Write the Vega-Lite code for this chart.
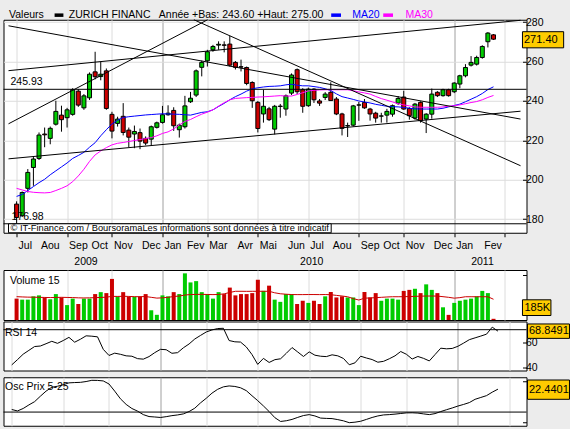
{
 "$schema": "https://vega.github.io/schema/vega-lite/v6.json",
 "background": "#ECECEC",
 "padding": {"left": 2.5, "top": 8.75, "right": 0, "bottom": 0},
 "bounds": "full",
 "spacing": 0.25,
 "config": {
  "view": {"fill": "white", "stroke": "black", "strokeWidth": 1},
  "axis": {"labelFont": "Liberation Sans", "labelFontSize": 10.5, "labelColor": "black", "tickColor": "black", "domain": false, "gridColor": "#DCDCDC", "labelFlush": false, "labelOverlap": false, "labelBound": false},
  "text": {"font": "Liberation Sans", "fontSize": 10.5, "color": "black"}
 },
 "datasets": {
  "weeks": [
   {"d":"2009-07-06","o":187.6,"h":189.0,"l":176.98,"c":180.8,"v":3300,"vma":3600,"ma20":191.5,"ma30":195.6,"rsi":42.4,"osc":2.5},
   {"d":"2009-07-13","o":181.7,"h":194.0,"l":181.0,"c":193.5,"v":3140,"vma":3560,"ma20":192.5,"ma30":194.8,"rsi":46.5,"osc":1.1},
   {"d":"2009-07-20","o":195.6,"h":205.4,"l":193.5,"c":203.7,"v":3140,"vma":3530,"ma20":194.5,"ma30":194.0,"rsi":50.8,"osc":3.5},
   {"d":"2009-07-27","o":206.2,"h":211.5,"l":196.9,"c":210.5,"v":3650,"vma":3520,"ma20":196.5,"ma30":193.6,"rsi":53.8,"osc":7.0},
   {"d":"2009-08-03","o":210.8,"h":224.0,"l":210.0,"c":222.7,"v":3800,"vma":3500,"ma20":198.5,"ma30":193.4,"rsi":56.8,"osc":10.2},
   {"d":"2009-08-10","o":223.2,"h":226.5,"l":216.5,"c":222.8,"v":3480,"vma":3480,"ma20":200.2,"ma30":193.3,"rsi":57.2,"osc":15.5},
   {"d":"2009-08-17","o":221.0,"h":227.0,"l":218.0,"c":226.1,"v":3200,"vma":3460,"ma20":202.5,"ma30":193.5,"rsi":59.0,"osc":20.5},
   {"d":"2009-08-24","o":228.2,"h":240.1,"l":227.5,"c":234.7,"v":4000,"vma":3480,"ma20":204.5,"ma30":194.5,"rsi":60.9,"osc":24.3},
   {"d":"2009-08-31","o":232.8,"h":237.6,"l":224.4,"c":230.5,"v":3480,"vma":3500,"ma20":206.5,"ma30":195.6,"rsi":59.3,"osc":25.3},
   {"d":"2009-09-07","o":231.5,"h":236.5,"l":226.5,"c":235.5,"v":2300,"vma":3480,"ma20":208.5,"ma30":196.9,"rsi":61.5,"osc":26.8},
   {"d":"2009-09-14","o":233.2,"h":246.5,"l":232.5,"c":245.7,"v":3300,"vma":3460,"ma20":210.8,"ma30":199.0,"rsi":64.0,"osc":28.6},
   {"d":"2009-09-21","o":245.0,"h":246.0,"l":237.0,"c":237.9,"v":2470,"vma":3420,"ma20":212.3,"ma30":201.9,"rsi":60.2,"osc":28.9},
   {"d":"2009-09-28","o":236.5,"h":243.5,"l":235.5,"c":242.6,"v":3300,"vma":3400,"ma20":213.9,"ma30":205.3,"rsi":62.5,"osc":29.1},
   {"d":"2009-10-05","o":241.6,"h":254.5,"l":240.5,"c":253.6,"v":3300,"vma":3420,"ma20":216.5,"ma30":209.3,"rsi":65.2,"osc":29.9},
   {"d":"2009-10-12","o":254.8,"h":265.0,"l":251.0,"c":252.3,"v":4000,"vma":3450,"ma20":218.8,"ma30":212.6,"rsi":64.9,"osc":31.1},
   {"d":"2009-10-19","o":252.4,"h":260.0,"l":250.5,"c":253.6,"v":4300,"vma":3480,"ma20":222.3,"ma30":214.6,"rsi":64.4,"osc":31.0},
   {"d":"2009-10-26","o":255.3,"h":256.5,"l":235.5,"c":236.2,"v":4150,"vma":3520,"ma20":225.4,"ma30":216.3,"rsi":54.6,"osc":30.5},
   {"d":"2009-11-02","o":233.2,"h":234.5,"l":221.0,"c":224.7,"v":6340,"vma":3650,"ma20":228.3,"ma30":217.7,"rsi":49.8,"osc":27.5},
   {"d":"2009-11-09","o":228.6,"h":232.0,"l":227.0,"c":230.8,"v":3650,"vma":3640,"ma20":230.2,"ma30":218.5,"rsi":51.6,"osc":20.5},
   {"d":"2009-11-16","o":232.2,"h":238.9,"l":222.5,"c":224.0,"v":4300,"vma":3660,"ma20":231.6,"ma30":218.9,"rsi":50.7,"osc":13.0},
   {"d":"2009-11-23","o":225.2,"h":226.5,"l":216.5,"c":221.6,"v":3600,"vma":3640,"ma20":232.0,"ma30":219.4,"rsi":49.5,"osc":7.5},
   {"d":"2009-11-30","o":223.2,"h":227.5,"l":216.0,"c":224.5,"v":3600,"vma":3600,"ma20":232.3,"ma30":219.9,"rsi":49.2,"osc":3.5},
   {"d":"2009-12-07","o":223.9,"h":226.0,"l":215.5,"c":219.6,"v":3600,"vma":3600,"ma20":232.6,"ma30":220.4,"rsi":47.3,"osc":0.9},
   {"d":"2009-12-14","o":221.0,"h":222.0,"l":217.5,"c":218.6,"v":4000,"vma":3620,"ma20":232.9,"ma30":220.9,"rsi":46.9,"osc":-2.5},
   {"d":"2009-12-21","o":220.6,"h":227.5,"l":217.5,"c":226.9,"v":1500,"vma":3500,"ma20":233.1,"ma30":221.4,"rsi":48.9,"osc":-4.4},
   {"d":"2009-12-28","o":226.6,"h":229.5,"l":226.0,"c":228.9,"v":800,"vma":3380,"ma20":233.3,"ma30":222.3,"rsi":52.0,"osc":-4.8},
   {"d":"2010-01-04","o":229.1,"h":237.5,"l":228.5,"c":233.0,"v":3800,"vma":3420,"ma20":233.5,"ma30":223.5,"rsi":54.6,"osc":-5.3},
   {"d":"2010-01-11","o":233.0,"h":237.8,"l":232.5,"c":233.8,"v":3650,"vma":3500,"ma20":233.4,"ma30":224.3,"rsi":54.3,"osc":-4.5},
   {"d":"2010-01-18","o":235.2,"h":236.8,"l":224.8,"c":227.4,"v":4300,"vma":3620,"ma20":233.3,"ma30":225.8,"rsi":51.5,"osc":-3.5},
   {"d":"2010-01-25","o":225.4,"h":228.5,"l":221.4,"c":227.7,"v":4000,"vma":3700,"ma20":233.2,"ma30":227.8,"rsi":52.0,"osc":-2.8},
   {"d":"2010-02-01","o":226.9,"h":242.6,"l":226.0,"c":237.5,"v":7200,"vma":3850,"ma20":233.0,"ma30":229.6,"rsi":55.8,"osc":-1.8},
   {"d":"2010-02-08","o":239.6,"h":244.6,"l":239.0,"c":241.4,"v":5800,"vma":3930,"ma20":232.8,"ma30":230.6,"rsi":58.8,"osc":0.5},
   {"d":"2010-02-15","o":243.0,"h":256.0,"l":242.0,"c":255.3,"v":6000,"vma":3950,"ma20":233.5,"ma30":232.0,"rsi":62.7,"osc":3.8},
   {"d":"2010-02-22","o":257.1,"h":260.5,"l":252.5,"c":259.6,"v":4300,"vma":3960,"ma20":234.2,"ma30":233.3,"rsi":65.5,"osc":9.0},
   {"d":"2010-03-01","o":260.4,"h":266.0,"l":257.5,"c":265.0,"v":4000,"vma":3940,"ma20":234.5,"ma30":234.3,"rsi":68.2,"osc":13.5},
   {"d":"2010-03-08","o":266.0,"h":268.5,"l":265.0,"c":267.7,"v":3300,"vma":3920,"ma20":235.5,"ma30":235.5,"rsi":69.8,"osc":18.5},
   {"d":"2010-03-15","o":268.4,"h":270.3,"l":266.0,"c":268.8,"v":4300,"vma":3940,"ma20":237.2,"ma30":237.4,"rsi":70.9,"osc":22.3},
   {"d":"2010-03-22","o":268.5,"h":270.3,"l":264.7,"c":268.3,"v":4000,"vma":4040,"ma20":238.8,"ma30":239.1,"rsi":71.1,"osc":24.7},
   {"d":"2010-03-29","o":268.9,"h":273.1,"l":257.5,"c":258.2,"v":5000,"vma":4250,"ma20":240.6,"ma30":240.6,"rsi":61.5,"osc":25.6},
   {"d":"2010-04-05","o":259.6,"h":260.3,"l":256.0,"c":257.1,"v":3800,"vma":4430,"ma20":242.2,"ma30":241.3,"rsi":60.5,"osc":25.1},
   {"d":"2010-04-12","o":257.4,"h":261.0,"l":255.0,"c":257.2,"v":4000,"vma":4430,"ma20":243.5,"ma30":241.5,"rsi":60.3,"osc":23.8},
   {"d":"2010-04-19","o":257.0,"h":257.5,"l":248.0,"c":248.9,"v":4000,"vma":4420,"ma20":245.0,"ma30":241.7,"rsi":56.5,"osc":21.0},
   {"d":"2010-04-26","o":249.4,"h":250.0,"l":236.5,"c":240.1,"v":4150,"vma":4430,"ma20":246.2,"ma30":241.8,"rsi":50.5,"osc":16.0},
   {"d":"2010-05-03","o":239.3,"h":240.0,"l":224.0,"c":226.0,"v":6200,"vma":4430,"ma20":246.7,"ma30":242.0,"rsi":42.8,"osc":11.2},
   {"d":"2010-05-10","o":233.4,"h":245.7,"l":229.0,"c":237.3,"v":4500,"vma":4430,"ma20":247.1,"ma30":242.1,"rsi":47.5,"osc":6.0},
   {"d":"2010-05-17","o":236.0,"h":237.0,"l":229.8,"c":230.5,"v":5300,"vma":4430,"ma20":247.4,"ma30":242.3,"rsi":44.3,"osc":0.5},
   {"d":"2010-05-24","o":225.7,"h":238.0,"l":223.0,"c":237.3,"v":3140,"vma":4200,"ma20":247.5,"ma30":242.5,"rsi":46.5,"osc":-5.5},
   {"d":"2010-05-31","o":237.2,"h":238.5,"l":231.5,"c":237.4,"v":2800,"vma":4050,"ma20":247.7,"ma30":242.7,"rsi":47.2,"osc":-9.2},
   {"d":"2010-06-07","o":235.9,"h":243.3,"l":232.5,"c":242.6,"v":4000,"vma":3980,"ma20":248.2,"ma30":242.5,"rsi":51.5,"osc":-8.5},
   {"d":"2010-06-14","o":244.0,"h":254.0,"l":243.0,"c":253.2,"v":4000,"vma":3930,"ma20":248.5,"ma30":242.5,"rsi":56.0,"osc":-7.2},
   {"d":"2010-06-21","o":255.9,"h":256.5,"l":243.5,"c":244.7,"v":2470,"vma":3920,"ma20":248.0,"ma30":243.3,"rsi":52.5,"osc":-5.2},
   {"d":"2010-06-28","o":245.7,"h":246.5,"l":234.0,"c":237.3,"v":2970,"vma":3920,"ma20":247.7,"ma30":244.2,"rsi":49.0,"osc":-3.4},
   {"d":"2010-07-05","o":237.6,"h":246.8,"l":237.0,"c":246.0,"v":2640,"vma":3930,"ma20":247.7,"ma30":245.1,"rsi":52.6,"osc":-2.5},
   {"d":"2010-07-12","o":246.0,"h":246.5,"l":239.0,"c":240.6,"v":2970,"vma":3930,"ma20":247.3,"ma30":245.4,"rsi":50.0,"osc":-3.8},
   {"d":"2010-07-19","o":240.0,"h":241.0,"l":237.5,"c":238.9,"v":2470,"vma":3920,"ma20":246.9,"ma30":245.6,"rsi":49.2,"osc":-5.9},
   {"d":"2010-07-26","o":241.8,"h":244.5,"l":240.5,"c":243.5,"v":3650,"vma":3930,"ma20":246.2,"ma30":245.7,"rsi":48.9,"osc":-6.2},
   {"d":"2010-08-02","o":244.4,"h":249.5,"l":240.0,"c":240.2,"v":4320,"vma":3900,"ma20":245.3,"ma30":245.7,"rsi":50.3,"osc":-6.4},
   {"d":"2010-08-09","o":241.0,"h":242.0,"l":232.8,"c":233.4,"v":3480,"vma":3800,"ma20":243.6,"ma30":245.7,"rsi":49.5,"osc":-7.4},
   {"d":"2010-08-16","o":233.4,"h":234.0,"l":222.5,"c":226.1,"v":3650,"vma":3700,"ma20":242.2,"ma30":245.7,"rsi":47.4,"osc":-8.6},
   {"d":"2010-08-23","o":227.3,"h":229.0,"l":221.7,"c":227.5,"v":3480,"vma":3590,"ma20":241.5,"ma30":245.7,"rsi":42.5,"osc":-10.4},
   {"d":"2010-08-30","o":227.7,"h":238.0,"l":227.0,"c":237.5,"v":3480,"vma":3300,"ma20":240.8,"ma30":245.2,"rsi":44.0,"osc":-9.9},
   {"d":"2010-09-06","o":237.9,"h":239.5,"l":229.9,"c":238.0,"v":2300,"vma":3080,"ma20":240.0,"ma30":244.6,"rsi":49.2,"osc":-9.0},
   {"d":"2010-09-13","o":239.2,"h":241.0,"l":236.0,"c":236.5,"v":4320,"vma":3370,"ma20":239.5,"ma30":244.1,"rsi":47.8,"osc":-7.2},
   {"d":"2010-09-20","o":235.9,"h":236.5,"l":230.0,"c":233.4,"v":3480,"vma":3400,"ma20":239.0,"ma30":243.5,"rsi":46.6,"osc":-5.3},
   {"d":"2010-09-27","o":233.8,"h":234.5,"l":229.0,"c":231.3,"v":4150,"vma":3450,"ma20":238.3,"ma30":242.3,"rsi":44.5,"osc":-3.8},
   {"d":"2010-10-04","o":232.3,"h":234.0,"l":229.0,"c":232.4,"v":2970,"vma":3500,"ma20":237.8,"ma30":241.2,"rsi":45.2,"osc":-2.8},
   {"d":"2010-10-11","o":232.8,"h":236.0,"l":229.0,"c":234.7,"v":3300,"vma":3550,"ma20":237.3,"ma30":240.4,"rsi":47.2,"osc":-2.5},
   {"d":"2010-10-18","o":233.3,"h":238.2,"l":232.0,"c":237.6,"v":3300,"vma":3590,"ma20":237.1,"ma30":239.5,"rsi":49.5,"osc":-2.0},
   {"d":"2010-10-25","o":238.9,"h":242.5,"l":238.0,"c":241.3,"v":3140,"vma":3590,"ma20":237.0,"ma30":238.6,"rsi":52.9,"osc":-1.4},
   {"d":"2010-11-01","o":242.0,"h":245.2,"l":235.5,"c":235.9,"v":4490,"vma":3600,"ma20":236.7,"ma30":238.0,"rsi":50.7,"osc":-0.8},
   {"d":"2010-11-08","o":236.2,"h":236.8,"l":230.5,"c":232.5,"v":4650,"vma":3620,"ma20":236.3,"ma30":237.5,"rsi":47.0,"osc":-0.7},
   {"d":"2010-11-15","o":231.3,"h":239.0,"l":230.5,"c":238.4,"v":4820,"vma":3650,"ma20":236.0,"ma30":237.0,"rsi":49.0,"osc":-1.0},
   {"d":"2010-11-22","o":239.3,"h":239.8,"l":229.0,"c":230.0,"v":4150,"vma":3680,"ma20":235.9,"ma30":236.8,"rsi":47.5,"osc":-1.8},
   {"d":"2010-11-29","o":230.8,"h":233.8,"l":223.7,"c":233.3,"v":5500,"vma":3700,"ma20":235.9,"ma30":236.8,"rsi":45.5,"osc":-2.5},
   {"d":"2010-12-06","o":233.3,"h":246.3,"l":231.0,"c":243.5,"v":4650,"vma":3700,"ma20":235.9,"ma30":236.8,"rsi":50.5,"osc":-1.5},
   {"d":"2010-12-13","o":244.4,"h":245.0,"l":242.0,"c":242.7,"v":4150,"vma":3690,"ma20":235.9,"ma30":236.8,"rsi":55.5,"osc":0.5},
   {"d":"2010-12-20","o":242.7,"h":246.2,"l":242.2,"c":245.7,"v":1960,"vma":3600,"ma20":236.3,"ma30":237.0,"rsi":55.0,"osc":2.3},
   {"d":"2010-12-27","o":245.7,"h":246.2,"l":242.2,"c":242.7,"v":790,"vma":3500,"ma20":237.0,"ma30":237.3,"rsi":55.3,"osc":4.0},
   {"d":"2011-01-03","o":244.7,"h":249.5,"l":244.0,"c":249.1,"v":2640,"vma":3370,"ma20":237.7,"ma30":237.6,"rsi":57.0,"osc":5.9},
   {"d":"2011-01-10","o":248.6,"h":253.3,"l":246.5,"c":252.8,"v":2970,"vma":3450,"ma20":238.4,"ma30":238.0,"rsi":59.5,"osc":7.5},
   {"d":"2011-01-17","o":252.8,"h":258.7,"l":252.0,"c":257.0,"v":3140,"vma":3590,"ma20":239.6,"ma30":238.6,"rsi":62.2,"osc":9.3},
   {"d":"2011-01-24","o":258.2,"h":262.8,"l":257.5,"c":259.6,"v":3300,"vma":3590,"ma20":240.9,"ma30":239.2,"rsi":63.6,"osc":12.5},
   {"d":"2011-01-31","o":258.7,"h":263.0,"l":258.0,"c":262.1,"v":3650,"vma":3590,"ma20":242.2,"ma30":239.7,"rsi":65.0,"osc":14.3},
   {"d":"2011-02-07","o":262.1,"h":268.3,"l":261.5,"c":267.7,"v":4490,"vma":3590,"ma20":243.8,"ma30":240.6,"rsi":66.5,"osc":16.1},
   {"d":"2011-02-14","o":270.1,"h":275.0,"l":267.2,"c":274.5,"v":4150,"vma":3590,"ma20":245.8,"ma30":241.8,"rsi":72.0,"osc":19.5},
   {"d":"2011-02-21","o":273.6,"h":274.0,"l":271.0,"c":271.4,"v":185,"vma":3200,"ma20":247.2,"ma30":242.8,"rsi":68.85,"osc":22.44}
  ],
  "trend": [
   {"x1":"2009-06-25T22:00:00Z","y1":278.2,"x2":"2011-03-26T17:00:00Z","y2":230.8},
   {"x1":"2009-06-25T22:00:00Z","y1":228.4,"x2":"2010-03-01T07:00:00Z","y2":281.27},
   {"x1":"2010-02-12T05:00:00Z","y1":281.27,"x2":"2011-03-26T17:00:00Z","y2":207.1},
   {"x1":"2009-06-25T22:00:00Z","y1":255.4,"x2":"2011-03-26T17:00:00Z","y2":281.0},
   {"x1":"2009-06-25T22:00:00Z","y1":210.6,"x2":"2011-03-26T17:00:00Z","y2":234.8}
  ],
  "months": [
   {"m":"Jul","d":"2009-07-06"},{"m":"Aou","d":"2009-08-03"},{"m":"Sep","d":"2009-09-07"},{"m":"Oct","d":"2009-10-05"},{"m":"Nov","d":"2009-11-02"},{"m":"Dec","d":"2009-12-07"},
   {"m":"Jan","d":"2010-01-04"},{"m":"Fev","d":"2010-02-01"},{"m":"Mar","d":"2010-03-01"},{"m":"Avr","d":"2010-04-05"},{"m":"Mai","d":"2010-05-03"},{"m":"Jun","d":"2010-06-07"},
   {"m":"Jul","d":"2010-07-05"},{"m":"Aou","d":"2010-08-02"},{"m":"Sep","d":"2010-09-06"},{"m":"Oct","d":"2010-10-04"},{"m":"Nov","d":"2010-11-01"},{"m":"Dec","d":"2010-12-06"},
   {"m":"Jan","d":"2011-01-03"},{"m":"Fev","d":"2011-02-07"}
  ],
  "years": [
   {"yr":"2009","d":"2009-09-30T14:00:00Z"},
   {"yr":"2010","d":"2010-07-09T05:00:00Z"},
   {"yr":"2011","d":"2011-02-07T05:00:00Z"}
  ]
 },
 "vconcat": [
  {
   "width": 523,
   "height": 213,
   "layer": [
    {
     "data": {"name": "weeks"},
     "mark": {"type": "rule", "color": "black", "strokeWidth": 1},
     "encoding": {
      "x": {"field": "d", "type": "temporal", "title": null,
       "scale": {"type": "utc", "domain": [{"year":2009,"month":6,"date":25,"hours":22,"utc":true},{"year":2011,"month":3,"date":27,"hours":22,"utc":true}]},
       "axis": {"orient": "bottom", "values": [{"year":2009,"month":7,"date":6,"utc":true},{"year":2009,"month":8,"date":3,"utc":true},{"year":2009,"month":9,"date":7,"utc":true},{"year":2009,"month":10,"date":5,"utc":true},{"year":2009,"month":11,"date":2,"utc":true},{"year":2009,"month":12,"date":7,"utc":true},{"year":2010,"month":1,"date":4,"utc":true},{"year":2010,"month":2,"date":1,"utc":true},{"year":2010,"month":3,"date":1,"utc":true},{"year":2010,"month":4,"date":5,"utc":true},{"year":2010,"month":5,"date":3,"utc":true},{"year":2010,"month":6,"date":7,"utc":true},{"year":2010,"month":7,"date":5,"utc":true},{"year":2010,"month":8,"date":2,"utc":true},{"year":2010,"month":9,"date":6,"utc":true},{"year":2010,"month":10,"date":4,"utc":true},{"year":2010,"month":11,"date":1,"utc":true},{"year":2010,"month":12,"date":6,"utc":true},{"year":2011,"month":1,"date":3,"utc":true},{"year":2011,"month":2,"date":7,"utc":true},{"year":2011,"month":3,"date":7,"utc":true}],
        "labels": false, "tickSize": 4,
        "grid": true, "gridColor": {"condition": {"test": "utcmonth(datum.value) === 0", "value": "#A0A0A0"}, "value": "#DCDCDC"}}},
      "y": {"field": "l", "type": "quantitative", "title": null,
       "scale": {"domain": [173.04, 281.27], "nice": false, "zero": false},
       "axis": {"orient": "right", "values": [180,190,200,210,220,230,240,250,260,270,280],
        "labelExpr": "datum.value % 20 === 0 ? datum.label : ''", "tickSize": -4, "labelPadding": 3,
        "grid": true, "gridOpacity": {"condition": {"test": "datum.value % 20 === 0", "value": 1}, "value": 0}}},
      "y2": {"field": "h"}
     }
    },
    {
     "data": {"name": "weeks"},
     "mark": {"type": "bar", "size": 4, "stroke": "black", "strokeWidth": 1},
     "encoding": {
      "x": {"field": "d", "type": "temporal", "title": null},
      "y": {"field": "o", "type": "quantitative", "title": null},
      "y2": {"field": "c"},
      "fill": {"condition": {"test": "datum.c >= datum.o", "value": "#00CC00"}, "value": "#CC0000"}
     }
    },
    {
     "data": {"name": "weeks"},
     "mark": {"type": "line", "color": "#0000FF", "strokeWidth": 1},
     "encoding": {"x": {"field": "d", "type": "temporal", "title": null}, "y": {"field": "ma20", "type": "quantitative", "title": null}}
    },
    {
     "data": {"name": "weeks"},
     "mark": {"type": "line", "color": "#FF00FF", "strokeWidth": 1},
     "encoding": {"x": {"field": "d", "type": "temporal", "title": null}, "y": {"field": "ma30", "type": "quantitative", "title": null}}
    },
    {
     "data": {"name": "trend"},
     "mark": {"type": "rule", "color": "black", "strokeWidth": 1},
     "encoding": {"x": {"field": "x1", "type": "temporal", "title": null}, "x2": {"field": "x2"}, "y": {"field": "y1", "type": "quantitative", "title": null}, "y2": {"field": "y2"}}
    },
    {
     "data": {"values": [{}]},
     "mark": {"type": "rule", "color": "black", "strokeWidth": 1},
     "encoding": {"y": {"datum": 245.93, "type": "quantitative"}}
    },
    {
     "data": {"values": [{}]},
     "mark": {"type": "rule", "color": "black", "strokeWidth": 1},
     "encoding": {"y": {"datum": 177.6, "type": "quantitative"}}
    },
    {
     "data": {"values": [{}]},
     "mark": {"type": "rect", "fill": "white", "stroke": "black", "strokeWidth": 1},
     "encoding": {
      "x": {"datum": {"year":2009,"month":6,"date":25,"hours":22,"utc":true}, "type": "temporal"},
      "x2": {"datum": {"year":2010,"month":8,"date":2,"hours":12,"utc":true}},
      "y": {"datum": 177.6, "type": "quantitative"},
      "y2": {"datum": 173.04}
     }
    },
    {
     "data": {"values": [{}]},
     "mark": {"type": "text", "text": "© IT-Finance.com / BoursoramaLes informations sont données à titre indicatif", "align": "left", "baseline": "middle", "dx": 2, "fontSize": 9.3},
     "encoding": {"x": {"datum": {"year":2009,"month":6,"date":25,"hours":22,"utc":true}, "type": "temporal"}, "y": {"datum": 175.3, "type": "quantitative"}}
    },
    {
     "data": {"values": [{}]},
     "mark": {"type": "text", "text": "245.93", "align": "left", "baseline": "middle", "dx": 2},
     "encoding": {"x": {"datum": {"year":2009,"month":6,"date":25,"hours":22,"utc":true}, "type": "temporal"}, "y": {"datum": 249.6, "type": "quantitative"}}
    },
    {
     "data": {"values": [{}]},
     "mark": {"type": "text", "text": "176.98", "align": "left", "baseline": "middle", "dx": 3},
     "encoding": {"x": {"datum": {"year":2009,"month":6,"date":25,"hours":22,"utc":true}, "type": "temporal"}, "y": {"datum": 180.8, "type": "quantitative"}}
    },
    {
     "data": {"values": [{}]},
     "mark": {"type": "text", "text": "Valeurs", "align": "left", "baseline": "middle", "dx": 0.5},
     "encoding": {"x": {"datum": {"year":2009,"month":6,"date":25,"hours":22,"utc":true}, "type": "temporal"}, "y": {"datum": 283.8, "type": "quantitative"}}
    },
    {
     "data": {"values": [{}]},
     "mark": {"type": "text", "text": "ZURICH FINANC", "align": "left", "baseline": "middle", "dx": 60.3},
     "encoding": {"x": {"datum": {"year":2009,"month":6,"date":25,"hours":22,"utc":true}, "type": "temporal"}, "y": {"datum": 283.8, "type": "quantitative"}}
    },
    {
     "data": {"values": [{}]},
     "mark": {"type": "text", "text": "Année +Bas: 243.60 +Haut: 275.00", "align": "left", "baseline": "middle", "dx": 150.3},
     "encoding": {"x": {"datum": {"year":2009,"month":6,"date":25,"hours":22,"utc":true}, "type": "temporal"}, "y": {"datum": 283.8, "type": "quantitative"}}
    },
    {
     "data": {"values": [{}]},
     "mark": {"type": "text", "text": "MA20", "align": "left", "baseline": "middle", "dx": 343.7, "color": "#0000FF"},
     "encoding": {"x": {"datum": {"year":2009,"month":6,"date":25,"hours":22,"utc":true}, "type": "temporal"}, "y": {"datum": 283.8, "type": "quantitative"}}
    },
    {
     "data": {"values": [{}]},
     "mark": {"type": "text", "text": "MA30", "align": "left", "baseline": "middle", "dx": 397, "color": "#FF00FF"},
     "encoding": {"x": {"datum": {"year":2009,"month":6,"date":25,"hours":22,"utc":true}, "type": "temporal"}, "y": {"datum": 283.8, "type": "quantitative"}}
    },
    {
     "data": {"values": [{}]},
     "mark": {"type": "rule", "color": "black", "strokeWidth": 3.5, "strokeCap": "butt"},
     "encoding": {"x": {"datum": {"year":2009,"month":8,"date":22,"hours":10,"utc":true}, "type": "temporal"}, "x2": {"datum": {"year":2009,"month":9,"date":2,"hours":10,"utc":true}}, "y": {"datum": 283.6, "type": "quantitative"}}
    },
    {
     "data": {"values": [{}]},
     "mark": {"type": "rule", "color": "#0000FF", "strokeWidth": 3.5, "strokeCap": "butt"},
     "encoding": {"x": {"datum": {"year":2010,"month":8,"date":2,"hours":12,"utc":true}, "type": "temporal"}, "x2": {"datum": {"year":2010,"month":8,"date":14,"hours":17,"utc":true}}, "y": {"datum": 283.6, "type": "quantitative"}}
    },
    {
     "data": {"values": [{}]},
     "mark": {"type": "rule", "color": "#FF00FF", "strokeWidth": 3.5, "strokeCap": "butt"},
     "encoding": {"x": {"datum": {"year":2010,"month":10,"date":6,"hours":10,"utc":true}, "type": "temporal"}, "x2": {"datum": {"year":2010,"month":10,"date":18,"hours":15,"utc":true}}, "y": {"datum": 283.6, "type": "quantitative"}}
    },
    {
     "data": {"values": [{}]},
     "mark": {"type": "rect", "fill": "#FFCC00", "stroke": "black", "strokeWidth": 1},
     "encoding": {
      "x": {"datum": {"year":2011,"month":3,"date":29,"hours":3,"utc":true}, "type": "temporal"},
      "x2": {"datum": {"year":2011,"month":5,"date":19,"hours":12,"utc":true}},
      "y": {"datum": 275.2, "type": "quantitative"},
      "y2": {"datum": 267.0}
     }
    },
    {
     "data": {"values": [{}]},
     "mark": {"type": "text", "text": "271.40", "align": "left", "baseline": "middle", "dx": 1.5, "fontSize": 11},
     "encoding": {"x": {"datum": {"year":2011,"month":3,"date":29,"hours":3,"utc":true}, "type": "temporal"}, "y": {"datum": 271.1, "type": "quantitative"}}
    },
    {
     "data": {"name": "months"},
     "mark": {"type": "text", "align": "left", "baseline": "middle", "dx": 2},
     "encoding": {"x": {"field": "d", "type": "temporal", "title": null}, "y": {"datum": 166.4, "type": "quantitative"}, "text": {"field": "m"}}
    },
    {
     "data": {"name": "years"},
     "mark": {"type": "text", "align": "center", "baseline": "middle"},
     "encoding": {"x": {"field": "d", "type": "temporal", "title": null}, "y": {"datum": 158.3, "type": "quantitative"}, "text": {"field": "yr"}}
    }
   ]
  },
  {
   "bounds": "full",
   "spacing": 1.25,
   "vconcat": [
    {
     "bounds": "flush",
     "spacing": 1.5,
     "vconcat": [
      {
       "width": 523,
       "height": 50,
       "layer": [
        {
         "data": {"name": "weeks"},
         "mark": {"type": "bar", "size": 4},
         "encoding": {
          "x": {"field": "d", "type": "temporal", "title": null,
           "scale": {"type": "utc", "domain": [{"year":2009,"month":6,"date":25,"hours":22,"utc":true},{"year":2011,"month":3,"date":27,"hours":22,"utc":true}]},
           "axis": {"orient": "top", "values": [{"year":2009,"month":7,"date":6,"utc":true},{"year":2009,"month":8,"date":3,"utc":true},{"year":2009,"month":9,"date":7,"utc":true},{"year":2009,"month":10,"date":5,"utc":true},{"year":2009,"month":11,"date":2,"utc":true},{"year":2009,"month":12,"date":7,"utc":true},{"year":2010,"month":1,"date":4,"utc":true},{"year":2010,"month":2,"date":1,"utc":true},{"year":2010,"month":3,"date":1,"utc":true},{"year":2010,"month":4,"date":5,"utc":true},{"year":2010,"month":5,"date":3,"utc":true},{"year":2010,"month":6,"date":7,"utc":true},{"year":2010,"month":7,"date":5,"utc":true},{"year":2010,"month":8,"date":2,"utc":true},{"year":2010,"month":9,"date":6,"utc":true},{"year":2010,"month":10,"date":4,"utc":true},{"year":2010,"month":11,"date":1,"utc":true},{"year":2010,"month":12,"date":6,"utc":true},{"year":2011,"month":1,"date":3,"utc":true},{"year":2011,"month":2,"date":7,"utc":true},{"year":2011,"month":3,"date":7,"utc":true}],
            "labels": false, "ticks": false, "grid": true, "gridColor": {"condition": {"test": "utcmonth(datum.value) === 0", "value": "#A0A0A0"}, "value": "#DCDCDC"}}},
          "y": {"field": "v", "type": "quantitative", "title": null,
           "scale": {"domain": [0, 7716], "nice": false},
           "axis": {"orient": "right", "values": [1000,2000,3000,4000,5000,6000,7000], "labelExpr": "datum.value === 6000 ? '6000K' : ''", "tickSize": -4, "labelPadding": 3, "grid": false}},
          "fill": {"condition": {"test": "datum.c >= datum.o", "value": "#00CC00"}, "value": "#CC0000"}
         }
        },
        {
         "data": {"name": "weeks"},
         "mark": {"type": "line", "color": "#CC0000", "strokeWidth": 1},
         "encoding": {"x": {"field": "d", "type": "temporal", "title": null}, "y": {"field": "vma", "type": "quantitative", "title": null}}
        },
        {
         "data": {"values": [{}]},
         "mark": {"type": "text", "text": "Volume 15", "align": "left", "baseline": "middle", "dx": 1.5},
         "encoding": {"x": {"datum": {"year":2009,"month":6,"date":25,"hours":22,"utc":true}, "type": "temporal"}, "y": {"datum": 6030, "type": "quantitative"}}
        },
        {
         "data": {"values": [{}]},
         "mark": {"type": "rect", "fill": "#FFCC00", "stroke": "black", "strokeWidth": 1},
         "encoding": {
          "x": {"datum": {"year":2011,"month":3,"date":29,"hours":3,"utc":true}, "type": "temporal"},
          "x2": {"datum": {"year":2011,"month":5,"date":3,"hours":15,"utc":true}},
          "y": {"datum": 3117, "type": "quantitative"},
          "y2": {"datum": 694}
         }
        },
        {
         "data": {"values": [{}]},
         "mark": {"type": "text", "text": "185K", "align": "left", "baseline": "middle", "dx": 2, "fontSize": 11},
         "encoding": {"x": {"datum": {"year":2011,"month":3,"date":29,"hours":3,"utc":true}, "type": "temporal"}, "y": {"datum": 1905, "type": "quantitative"}}
        }
       ]
      },
      {
       "width": 523,
       "height": 49,
       "layer": [
        {
         "data": {"name": "weeks"},
         "mark": {"type": "line", "color": "black", "strokeWidth": 1},
         "encoding": {
          "x": {"field": "d", "type": "temporal", "title": null,
           "scale": {"type": "utc", "domain": [{"year":2009,"month":6,"date":25,"hours":22,"utc":true},{"year":2011,"month":3,"date":27,"hours":22,"utc":true}]},
           "axis": {"orient": "top", "values": [{"year":2009,"month":7,"date":6,"utc":true},{"year":2009,"month":8,"date":3,"utc":true},{"year":2009,"month":9,"date":7,"utc":true},{"year":2009,"month":10,"date":5,"utc":true},{"year":2009,"month":11,"date":2,"utc":true},{"year":2009,"month":12,"date":7,"utc":true},{"year":2010,"month":1,"date":4,"utc":true},{"year":2010,"month":2,"date":1,"utc":true},{"year":2010,"month":3,"date":1,"utc":true},{"year":2010,"month":4,"date":5,"utc":true},{"year":2010,"month":5,"date":3,"utc":true},{"year":2010,"month":6,"date":7,"utc":true},{"year":2010,"month":7,"date":5,"utc":true},{"year":2010,"month":8,"date":2,"utc":true},{"year":2010,"month":9,"date":6,"utc":true},{"year":2010,"month":10,"date":4,"utc":true},{"year":2010,"month":11,"date":1,"utc":true},{"year":2010,"month":12,"date":6,"utc":true},{"year":2011,"month":1,"date":3,"utc":true},{"year":2011,"month":2,"date":7,"utc":true},{"year":2011,"month":3,"date":7,"utc":true}],
            "labels": false, "ticks": false, "grid": true, "gridColor": {"condition": {"test": "utcmonth(datum.value) === 0", "value": "#A0A0A0"}, "value": "#DCDCDC"}}},
          "y": {"field": "rsi", "type": "quantitative", "title": null,
           "scale": {"domain": [38.0, 76.43], "nice": false, "zero": false},
           "axis": {"orient": "right", "values": [40,50,60], "labelExpr": "datum.value === 50 ? '' : datum.label", "tickSize": -4, "labelPadding": 3, "grid": false}}
         }
        },
        {
         "data": {"values": [{}]},
         "mark": {"type": "rule", "color": "black", "strokeWidth": 1},
         "encoding": {"y": {"datum": 70, "type": "quantitative"}}
        },
        {
         "data": {"values": [{}]},
         "mark": {"type": "text", "text": "RSI 14", "align": "left", "baseline": "middle", "dx": 1.5},
         "encoding": {"x": {"datum": {"year":2009,"month":6,"date":25,"hours":22,"utc":true}, "type": "temporal"}, "y": {"datum": 67.2, "type": "quantitative"}}
        },
        {
         "data": {"values": [{}]},
         "mark": {"type": "rect", "fill": "#FFCC00", "stroke": "black", "strokeWidth": 1},
         "encoding": {
          "x": {"datum": {"year":2011,"month":3,"date":29,"hours":3,"utc":true}, "type": "temporal"},
          "x2": {"datum": {"year":2011,"month":5,"date":19,"hours":12,"utc":true}},
          "y": {"datum": 74.5, "type": "quantitative"},
          "y2": {"datum": 63.2}
         }
        },
        {
         "data": {"values": [{}]},
         "mark": {"type": "text", "text": "68.8491", "align": "left", "baseline": "middle", "dx": 1.5, "fontSize": 11},
         "encoding": {"x": {"datum": {"year":2011,"month":3,"date":29,"hours":3,"utc":true}, "type": "temporal"}, "y": {"datum": 68.85, "type": "quantitative"}}
        }
       ]
      }
     ]
    },
    {
     "width": 523,
     "height": 48.5,
     "layer": [
      {
       "data": {"name": "weeks"},
       "mark": {"type": "line", "color": "black", "strokeWidth": 1},
       "encoding": {
        "x": {"field": "d", "type": "temporal", "title": null,
         "scale": {"type": "utc", "domain": [{"year":2009,"month":6,"date":25,"hours":22,"utc":true},{"year":2011,"month":3,"date":27,"hours":22,"utc":true}]},
         "axis": {"orient": "top", "values": [{"year":2009,"month":7,"date":6,"utc":true},{"year":2009,"month":8,"date":3,"utc":true},{"year":2009,"month":9,"date":7,"utc":true},{"year":2009,"month":10,"date":5,"utc":true},{"year":2009,"month":11,"date":2,"utc":true},{"year":2009,"month":12,"date":7,"utc":true},{"year":2010,"month":1,"date":4,"utc":true},{"year":2010,"month":2,"date":1,"utc":true},{"year":2010,"month":3,"date":1,"utc":true},{"year":2010,"month":4,"date":5,"utc":true},{"year":2010,"month":5,"date":3,"utc":true},{"year":2010,"month":6,"date":7,"utc":true},{"year":2010,"month":7,"date":5,"utc":true},{"year":2010,"month":8,"date":2,"utc":true},{"year":2010,"month":9,"date":6,"utc":true},{"year":2010,"month":10,"date":4,"utc":true},{"year":2010,"month":11,"date":1,"utc":true},{"year":2010,"month":12,"date":6,"utc":true},{"year":2011,"month":1,"date":3,"utc":true},{"year":2011,"month":2,"date":7,"utc":true},{"year":2011,"month":3,"date":7,"utc":true}],
          "labels": false, "ticks": false, "grid": true, "gridColor": {"condition": {"test": "utcmonth(datum.value) === 0", "value": "#A0A0A0"}, "value": "#DCDCDC"}}},
        "y": {"field": "osc", "type": "quantitative", "title": null,
         "scale": {"domain": [-13.4, 34.1], "nice": false, "zero": false},
         "axis": {"orient": "right", "values": [-10,0,10,20,30], "labelExpr": "datum.value === 0 ? '0' : ''", "tickSize": -4, "labelPadding": 3, "grid": false}}
       }
      },
      {
       "data": {"values": [{}]},
       "mark": {"type": "rule", "color": "black", "strokeWidth": 1},
       "encoding": {"y": {"datum": 0, "type": "quantitative"}}
      },
      {
       "data": {"values": [{}]},
       "mark": {"type": "text", "text": "Osc Prix 5-25", "align": "left", "baseline": "middle", "dx": 1.5},
       "encoding": {"x": {"datum": {"year":2009,"month":6,"date":25,"hours":22,"utc":true}, "type": "temporal"}, "y": {"datum": 24.3, "type": "quantitative"}}
      },
      {
       "data": {"values": [{}]},
       "mark": {"type": "rect", "fill": "#FFCC00", "stroke": "black", "strokeWidth": 1},
       "encoding": {
        "x": {"datum": {"year":2011,"month":3,"date":29,"hours":3,"utc":true}, "type": "temporal"},
        "x2": {"datum": {"year":2011,"month":5,"date":19,"hours":12,"utc":true}},
        "y": {"datum": 31.4, "type": "quantitative"},
        "y2": {"datum": 12.5}
       }
      },
      {
       "data": {"values": [{}]},
       "mark": {"type": "text", "text": "22.4401", "align": "left", "baseline": "middle", "dx": 1.5, "fontSize": 11},
       "encoding": {"x": {"datum": {"year":2011,"month":3,"date":29,"hours":3,"utc":true}, "type": "temporal"}, "y": {"datum": 21.95, "type": "quantitative"}}
      }
     ]
    }
   ]
  }
 ]
}
